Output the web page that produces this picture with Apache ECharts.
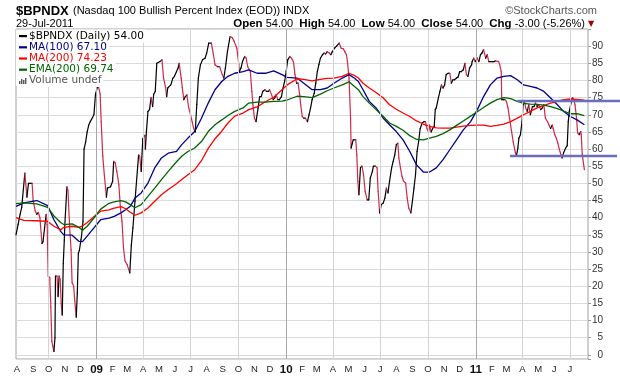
<!DOCTYPE html>
<html lang="en">
<head>
    <meta charset="UTF-8" />
    <title>$BPNDX</title>
    <script src="https://cdn.jsdelivr.net/npm/echarts@6/dist/echarts.min.js"></script>
    <style>
        body { margin: 0; background: #fff; }
        #chart { width: 620px; height: 376px; }
    </style>
</head>
<body>
    <div id="chart"></div>
    <script>
        // daily close of $BPNDX (sparse)
        var priceDates = [
            "2008-07-30","2008-08-03","2008-08-07","2008-08-10","2008-08-16","2008-08-20","2008-08-23","2008-08-27","2008-08-30",
            "2008-09-01","2008-09-05","2008-09-08","2008-09-11","2008-09-14","2008-09-18","2008-09-20","2008-09-23","2008-09-26","2008-09-28","2008-09-30",
            "2008-10-03","2008-10-05","2008-10-07","2008-10-09","2008-10-11","2008-10-13","2008-10-14","2008-10-17","2008-10-19","2008-10-21","2008-10-23","2008-10-25","2008-10-27","2008-10-29","2008-10-31",
            "2008-11-01","2008-11-05","2008-11-07","2008-11-10","2008-11-13","2008-11-15","2008-11-18","2008-11-20","2008-11-23","2008-11-25","2008-11-27","2008-11-29",
            "2008-12-02","2008-12-03","2008-12-06","2008-12-08","2008-12-11","2008-12-14","2008-12-17","2008-12-20","2008-12-27","2008-12-30",
            "2009-01-04","2009-01-08","2009-01-10","2009-01-13","2009-01-16","2009-01-20","2009-01-22","2009-01-28",
            "2009-02-01","2009-02-03","2009-02-06","2009-02-09","2009-02-13","2009-02-16","2009-02-19","2009-02-22","2009-02-25",
            "2009-03-01","2009-03-06","2009-03-09","2009-03-12","2009-03-16","2009-03-19","2009-03-23","2009-03-25","2009-03-28","2009-03-31",
            "2009-04-04","2009-04-05","2009-04-07","2009-04-10","2009-04-13","2009-04-16","2009-04-19","2009-04-21","2009-04-24","2009-04-27",
            "2009-05-03","2009-05-07","2009-05-10","2009-05-14","2009-05-16","2009-05-18","2009-05-24","2009-05-28","2009-05-31",
            "2009-06-04","2009-06-07","2009-06-09","2009-06-13","2009-06-15","2009-06-18","2009-06-21","2009-06-24","2009-06-27",
            "2009-07-01","2009-07-04","2009-07-07","2009-07-10","2009-07-13","2009-07-16","2009-07-20","2009-07-24","2009-07-29",
            "2009-08-01","2009-08-05","2009-08-10","2009-08-14","2009-08-17","2009-08-22","2009-08-26","2009-08-31",
            "2009-09-03","2009-09-06","2009-09-10","2009-09-15","2009-09-19","2009-09-23","2009-09-28",
            "2009-10-02","2009-10-03","2009-10-06","2009-10-09","2009-10-13","2009-10-16","2009-10-19","2009-10-24","2009-10-27","2009-10-29",
            "2009-11-01","2009-11-04","2009-11-08","2009-11-11","2009-11-14","2009-11-17","2009-11-21","2009-11-24","2009-11-28","2009-11-30",
            "2009-12-04","2009-12-07","2009-12-10","2009-12-13","2009-12-16","2009-12-19","2009-12-23","2009-12-26","2009-12-29",
            "2010-01-01","2010-01-04","2010-01-08","2010-01-11","2010-01-15","2010-01-18","2010-01-21","2010-01-24","2010-01-27","2010-01-29",
            "2010-02-01","2010-02-04","2010-02-07","2010-02-11","2010-02-14","2010-02-17","2010-02-20","2010-02-24","2010-02-27",
            "2010-03-02","2010-03-05","2010-03-08","2010-03-12","2010-03-15","2010-03-18","2010-03-21","2010-03-25","2010-03-28","2010-03-31",
            "2010-04-04","2010-04-08","2010-04-13","2010-04-17","2010-04-21","2010-04-24","2010-04-27","2010-04-29",
            "2010-05-02","2010-05-05","2010-05-06","2010-05-08","2010-05-10","2010-05-15","2010-05-17","2010-05-19","2010-05-21","2010-05-24","2010-05-27","2010-05-30",
            "2010-06-02","2010-06-06","2010-06-09","2010-06-12","2010-06-16","2010-06-18","2010-06-22","2010-06-25","2010-06-27","2010-06-30",
            "2010-07-03","2010-07-07","2010-07-10","2010-07-13","2010-07-16","2010-07-19","2010-07-23","2010-07-26","2010-07-29",
            "2010-08-01","2010-08-04","2010-08-06","2010-08-09","2010-08-12","2010-08-15","2010-08-19","2010-08-22","2010-08-25","2010-08-29",
            "2010-09-01","2010-09-04","2010-09-07","2010-09-10","2010-09-13","2010-09-16","2010-09-20","2010-09-23","2010-09-26","2010-09-29",
            "2010-10-02","2010-10-04","2010-10-07","2010-10-10","2010-10-13","2010-10-15","2010-10-17","2010-10-21","2010-10-24","2010-10-27","2010-10-30",
            "2010-11-02","2010-11-05","2010-11-09","2010-11-12","2010-11-15","2010-11-18","2010-11-21","2010-11-25","2010-11-28",
            "2010-12-01","2010-12-04","2010-12-08","2010-12-11","2010-12-14","2010-12-17","2010-12-20","2010-12-24","2010-12-25","2010-12-28","2010-12-31",
            "2011-01-04","2011-01-07","2011-01-10","2011-01-13","2011-01-16","2011-01-20","2011-01-23","2011-01-26","2011-01-29",
            "2011-02-02","2011-02-05","2011-02-08","2011-02-14","2011-02-16","2011-02-19","2011-02-20","2011-02-23","2011-02-26",
            "2011-03-01","2011-03-04","2011-03-07","2011-03-11","2011-03-14","2011-03-17","2011-03-20","2011-03-23","2011-03-25","2011-03-28","2011-03-31",
            "2011-04-02","2011-04-05","2011-04-07","2011-04-10","2011-04-13","2011-04-16","2011-04-20","2011-04-23","2011-04-26","2011-04-29",
            "2011-05-02","2011-05-06","2011-05-09","2011-05-12","2011-05-15","2011-05-19","2011-05-22","2011-05-25","2011-05-28","2011-05-30",
            "2011-06-02","2011-06-05","2011-06-08","2011-06-11","2011-06-14","2011-06-16","2011-06-19","2011-06-23","2011-06-26","2011-06-28","2011-06-30",
            "2011-07-04","2011-07-06","2011-07-09","2011-07-11","2011-07-14","2011-07-16","2011-07-19","2011-07-22","2011-07-23","2011-07-25","2011-07-29"
        ];
        var priceValues = [
            35,38,41,43,53,46,50,50,50,
            45,42,41,41.5,40,32.5,33,37,41,38,23,
            22.5,14,4,2.4,1,5,23,23,17,23,22,15,11.6,26.7,33.5,
            38,49,48,38,30.6,21,20,16,11,18,29.6,30.5,
            33.5,34.5,39,60,62,65,67,68,70,76,
            78.7,76,68,58,52.5,46,48.6,49,
            50.6,56.4,56,53.5,49.6,42.8,39,31,27.3,
            26.3,23.9,32,37,44.8,50.6,58.3,58,53.5,63,
            64,60,65,71,71.5,75,72.4,76,76.8,85,
            85.5,86,80.7,78,75.3,77.8,78.7,80.7,81.2,
            82.6,83.6,85,80.7,78,74.4,75.3,75.8,72.4,
            70,68,66,65,73,80.7,84.6,86,86.5,
            88,90.9,90.9,87.5,84.6,84,84,81.7,
            80.7,83.6,88.4,92.8,92.5,91.4,89.4,
            84.6,82.6,83.6,85.5,87,86.5,84,82.6,76.8,72.9,
            69,68,72,75.3,75.3,76.8,77.3,76.8,76.8,77.3,
            75.8,74.4,74.9,75.8,74.4,74.4,75.3,77.8,79.7,
            82.6,86,87,86.5,85.5,81.7,79.2,79.2,75.8,72.9,
            69.5,69,69,68,70,72,74.4,76.3,79.2,
            82.6,84.6,86.5,87.5,88,87.7,88.4,88,87.5,88.4,
            89.4,90,90.9,89.4,89.2,88.4,87.5,85.5,
            80.7,69,60.3,61.5,62.7,62.7,58.3,50.6,46.7,54.5,55,52.5,
            47.7,45.2,45.2,51.6,53.5,55,55,54.5,47.7,41.4,
            43.8,44.3,45.7,48.6,47.2,50.6,54.5,56.4,58.3,
            61.3,61.7,57.4,54.5,52,50.6,50.1,45.7,42.8,41.4,
            44.8,48.6,52.5,59.3,62.2,66,67.6,68,68,66,
            65,67,65,66,66.6,71.5,72,74.9,76.8,78.7,77.8,
            78.7,81.7,82.1,82.1,79.2,80.2,80.2,80.7,81,
            82.6,82.6,83.1,85,81.7,81.2,83.6,84.6,85.5,86.5,85.5,
            86.5,85.5,87.5,88,89,86.5,87.5,85.5,85.5,
            85.5,85.5,85.7,85.5,84.6,82.6,74.4,74.4,74.4,
            73.9,72,69,65,62.2,59.8,57.9,60.3,63.2,64.2,68,
            72.9,73.9,72,71,72.9,70,72.4,72.4,73.4,72.4,
            72.9,71.5,72,72.9,69,68,67,66,67,66,
            64.2,63.2,61.7,59.8,58.3,57.4,58.9,60.3,61,68,71,
            73.9,75,74.4,72.9,69,64.7,64.2,65.1,64.2,58.3,54
        ];

        // moving averages, sampled on a shared set of dates
        var maDates = [
            "2008-07-30","2008-08-14","2008-09-08","2008-09-29","2008-10-11","2008-10-24","2008-10-30","2008-11-15","2008-11-28",
            "2008-12-05","2008-12-14","2008-12-27","2009-01-09","2009-01-25","2009-02-04","2009-02-17","2009-02-26","2009-03-07",
            "2009-03-16","2009-03-28","2009-04-10","2009-04-23","2009-05-06","2009-05-19","2009-06-04","2009-06-14","2009-06-26",
            "2009-07-09","2009-07-22","2009-08-04","2009-08-17","2009-08-30","2009-09-11","2009-09-24","2009-10-10","2009-10-21",
            "2009-11-06","2009-11-22","2009-12-08","2009-12-24","2010-01-03","2010-01-22","2010-02-04","2010-02-20","2010-03-08",
            "2010-03-21","2010-04-03","2010-04-19","2010-05-02","2010-05-12","2010-05-20","2010-05-29","2010-06-10","2010-06-23",
            "2010-07-07","2010-07-19","2010-08-01","2010-08-14","2010-08-27","2010-09-09","2010-09-22","2010-10-04","2010-10-17",
            "2010-10-30","2010-11-12","2010-11-25","2010-12-08","2010-12-22","2011-01-04","2011-01-16","2011-01-29","2011-02-11",
            "2011-02-24","2011-03-09","2011-03-22","2011-04-03","2011-04-16","2011-04-29","2011-05-12","2011-05-25","2011-06-07",
            "2011-06-19","2011-07-02","2011-07-15","2011-07-29"
        ];
        var ma100 = [
            43.3,44.3,45,43.5,39.4,36,35,34.9,33.1,
            33,34.6,37,39.4,39.9,40.4,41.4,42.3,43.3,
            45.7,47.2,50.1,54.5,57.4,58.8,59.3,61.3,63.2,
            65.1,69,73.4,77.3,79.7,81.2,82.1,82.6,83.1,
            82.1,82.1,82.8,81.7,80.9,80.7,79.2,77.3,77.3,
            77.8,79.2,80.7,81.7,80.7,79.7,77.3,73.9,72,
            69,67.1,65.1,62.7,59.3,55.4,53.3,53.3,54.5,
            56.9,59.8,62.7,65.6,68,71.5,75.3,78.7,80.7,
            81.2,81.4,80.2,78.7,78.3,77.8,76.8,74.9,72.9,
            71,69.5,68.5,67.1
        ];
        var ma200 = [
            40,39.2,39.1,38.9,37.5,36.5,37.2,37.5,37.2,
            37.6,38.6,40.3,41.9,42.3,42.8,43.2,42.6,41.6,
            40.7,41.4,42.8,44.8,46.7,48.2,49.9,51.1,52.5,
            54,56.6,60.2,63,65.2,67.6,69.6,70.5,71.5,
            72.3,73.8,75.1,77.3,78.7,80.5,80.3,79.9,80.3,
            80.6,80.7,81.2,82.1,81.5,80.7,79.2,77.8,76.5,
            74.9,72.9,71.6,70.5,69.5,68.2,67.3,66.6,66.2,
            66.1,66.1,66.4,66.7,66.9,67,67,66.6,66.9,
            67.3,68,69,70,71,72,72.7,73.4,73.9,
            74.4,74.6,74.5,74.23
        ];
        var ema200 = [
            44.1,44.3,44,43,40.5,38.6,38,38.2,37.2,
            36.3,37.5,39.9,42.5,44.2,44.6,45,44.6,43.8,
            42.9,43.8,46.2,48.6,51.1,53.5,56.3,57.9,59.3,
            60.3,62.2,65.1,67.1,68.5,69.8,71,72,73.4,
            73.7,73.7,73.9,74,74.3,75.4,75.3,75,76,
            77,77.8,78.7,79.6,78.3,77.3,75.3,73.4,71.5,
            69.5,67.6,66.6,65.5,63.9,62.8,62.7,63.2,63.7,
            64.5,65.6,66.9,68.2,69.6,70.9,72.1,73.4,74.4,
            75,74.7,73.9,73.3,73.1,73,72.8,72.4,71.8,
            71.1,70.3,70.3,69.74
        ];

        // hand-drawn trend lines (resistance / support)
        var trendLevels = [74, 58];
        var trendStarts = ["2011-03-22", "2011-03-08"];
        var trendEnds = ["2011-10-06", "2011-09-30"];

        // axis ticks
        var monthLetters = "JFMAMJJASOND";
        var lastLabel = "2011-07-01";
        var quarterLines = ["2008-10-01","2009-04-01","2009-07-01","2009-10-01","2010-04-01","2010-07-01","2010-10-01","2011-04-01","2011-07-01"];
        var yearLines = ["2009-01-01","2010-01-01","2011-01-01"];

        var quote = [["Open", "54.00"], ["High", "54.00"], ["Low", "54.00"], ["Close", "54.00"], ["Chg", "-3.00 (-5.26%)"]];

        var UP = "#000000", DOWN = "#d02848";
        var DAY = 86400000;
        var lastLabelTime = echarts.time.parse(lastLabel).getTime();

        // one item per segment so each piece can be coloured by direction
        var segs = [];
        for (var k = 0; k < priceDates.length - 1; k++) {
            segs.push([priceDates[k], priceValues[k], priceDates[k + 1], priceValues[k + 1]]);
        }
        var trendData = trendLevels.map(function (lv, j) { return [trendStarts[j], trendEnds[j], lv]; });

        function pairs(dates, vals) {
            return dates.map(function (d, j) { return [d, vals[j]]; });
        }

        var chart = echarts.init(document.getElementById("chart"));

        var lastVal = function (a) { return a[a.length - 1].toFixed(2); };
        var legendRows = [
            { color: "#000000", text: "$BPNDX (Daily) " + lastVal(priceValues) },
            { color: "#00008b", text: "MA(100) " + lastVal(ma100) },
            { color: "#ff0000", text: "MA(200) " + lastVal(ma200) },
            { color: "#006400", text: "EMA(200) " + lastVal(ema200) }
        ];

        var graphics = [];
        legendRows.forEach(function (r, j) {
            var y = 36 + j * 11.2;
            graphics.push({ type: "rect", z: 20, shape: { x: 16, y: y - 5.6, width: 13, height: 11.2 }, style: { fill: "#fff" } });
            graphics.push({ type: "rect", z: 21, shape: { x: 19, y: y - 1, width: 8, height: 2.2 }, style: { fill: r.color } });
            graphics.push({
                type: "text", x: 29, y: y, z: 21,
                style: { text: r.text, fill: r.color, font: "10.5px 'DejaVu Sans'", verticalAlign: "middle", backgroundColor: "#fff", padding: [1, 2, 1, 0] }
            });
        });
        // volume row
        graphics.push({ type: "rect", z: 20, shape: { x: 16, y: 75, width: 13, height: 11 }, style: { fill: "#fff" } });
        [[19, 3], [21, 5], [23, 4], [25, 6]].forEach(function (b) {
            graphics.push({ type: "rect", z: 21, shape: { x: b[0], y: 84 - b[1], width: 1.4, height: b[1] }, style: { fill: "#555" } });
        });
        graphics.push({
            type: "text", x: 29, y: 80.5, z: 21,
            style: { text: "Volume undef", fill: "#555", font: "10.5px 'DejaVu Sans'", verticalAlign: "middle", backgroundColor: "#fff", padding: [1, 2, 1, 0] }
        });

        // header
        graphics.push({ type: "text", x: 16, y: 11, style: { text: "$BPNDX", fill: "#000", font: "bold 13px 'Liberation Sans'", verticalAlign: "middle" } });
        graphics.push({ type: "text", x: 73, y: 11, style: { text: "(Nasdaq 100 Bullish Percent Index (EOD))", fill: "#000", font: "11px 'Liberation Sans'", verticalAlign: "middle" } });
        graphics.push({ type: "text", x: 283, y: 11, style: { text: "INDX", fill: "#000", font: "11px 'Liberation Sans'", verticalAlign: "middle" } });
        graphics.push({ type: "text", x: 597, y: 11, style: { text: "\u00a9StockCharts.com", fill: "#555", font: "11px 'Liberation Sans'", align: "right", verticalAlign: "middle" } });
        graphics.push({ type: "text", x: 16, y: 24, style: { text: "29-Jul-2011", fill: "#000", font: "11px 'Liberation Sans'", verticalAlign: "middle" } });
        var qText = quote.map(function (q) { return "{b|" + q[0] + "} " + q[1]; }).join("  ");
        graphics.push({
            type: "text", x: 585, y: 24,
            style: {
                text: qText, fill: "#000", font: "11px 'Liberation Sans'", align: "right", verticalAlign: "middle",
                rich: { b: { fontWeight: "bold", fontSize: 11.5, fontFamily: "Liberation Sans" } }
            }
        });
        graphics.push({ type: "text", x: 591, y: 24, style: { text: "\u25bc", fill: "#a00000", font: "8px 'DejaVu Sans'", align: "center", verticalAlign: "middle" } });

        var gridMarks = quarterLines.map(function (d) {
            return { xAxis: d, lineStyle: { color: "#d4d4d4", width: 1, type: "solid" } };
        }).concat(yearLines.map(function (d) {
            return { xAxis: d, lineStyle: { color: "#a8a8a8", width: 1, type: "solid" } };
        }));

        var option = {
            animation: false,
            backgroundColor: "#fff",
            grid: { left: 16, right: 32, top: 29, bottom: 17, show: true, borderColor: "#a0a0a0", borderWidth: 1 },
            xAxis: {
                type: "time",
                min: "2008-07-30",
                max: "2011-08-05",
                minInterval: 28 * DAY,
                maxInterval: 31 * DAY,
                splitLine: { show: false },
                axisLine: { show: false },
                axisTick: { show: false },
                axisLabel: {
                    margin: 5,
                    fontSize: 9.5,
                    color: "#222",
                    fontFamily: "Liberation Sans",
                    hideOverlap: false,
                    formatter: function (v) {
                        var d = new Date(v);
                        if (d.getDate() !== 1 || v > lastLabelTime) return "";
                        if (d.getMonth() === 0) return "{y|" + String(d.getFullYear()).slice(2) + "}";
                        return monthLetters.charAt(d.getMonth());
                    },
                    rich: { y: { fontWeight: "bold", fontSize: 11.5, color: "#111", fontFamily: "Liberation Sans" } }
                }
            },
            yAxis: {
                type: "value",
                position: "right",
                min: -1.2,
                max: 95,
                splitNumber: 19,
                axisLine: { show: false },
                axisTick: { show: true, length: 3, lineStyle: { color: "#999" } },
                splitLine: { lineStyle: { color: "#dadada" } },
                axisLabel: {
                    align: "right",
                    margin: 15,
                    fontSize: 10,
                    color: "#333",
                    fontFamily: "Liberation Sans",
                    formatter: function (v) {
                        return (v >= 0 && v <= 90 && v % 5 === 0) ? String(v) : "";
                    }
                }
            },
            graphic: graphics,
            series: [
                {
                    name: "grid",
                    type: "line",
                    data: [],
                    z: 1,
                    silent: true,
                    markLine: { silent: true, symbol: "none", label: { show: false }, data: gridMarks }
                },
                {
                    name: "$BPNDX",
                    type: "custom",
                    z: 3,
                    dimensions: [{ name: "t0", type: "time" }, { name: "v0", type: "float" }, { name: "t1", type: "time" }, { name: "v1", type: "float" }],
                    encode: { x: [0, 2], y: [1, 3] },
                    data: segs,
                    renderItem: function (params, api) {
                        var a = api.coord([api.value(0), api.value(1)]);
                        var b = api.coord([api.value(2), api.value(3)]);
                        return {
                            type: "line",
                            shape: { x1: a[0], y1: a[1], x2: b[0], y2: b[1] },
                            style: { stroke: api.value(3) >= api.value(1) ? UP : DOWN, lineWidth: 1.2, lineCap: "round" }
                        };
                    }
                },
                { name: "MA(100)", type: "line", z: 4, data: pairs(maDates, ma100), showSymbol: false, lineStyle: { color: "#00008b", width: 1.3 } },
                { name: "MA(200)", type: "line", z: 4, data: pairs(maDates, ma200), showSymbol: false, lineStyle: { color: "#ff0000", width: 1.3 } },
                { name: "EMA(200)", type: "line", z: 4, data: pairs(maDates, ema200), showSymbol: false, lineStyle: { color: "#006400", width: 1.3 } },
                {
                    name: "trend lines",
                    type: "custom",
                    z: 6,
                    clip: false,
                    silent: true,
                    dimensions: [{ name: "t0", type: "time" }, { name: "t1", type: "time" }, { name: "level", type: "float" }],
                    encode: { x: [0, 1], y: 2 },
                    data: trendData,
                    renderItem: function (params, api) {
                        var a = api.coord([api.value(0), api.value(2)]);
                        var b = api.coord([api.value(1), api.value(2)]);
                        return {
                            type: "line",
                            shape: { x1: a[0], y1: a[1], x2: b[0], y2: b[1] },
                            style: { stroke: "#6b6bbf", lineWidth: 2.5 }
                        };
                    }
                }
            ]
        };
        chart.setOption(option);
    </script>
</body>
</html>
